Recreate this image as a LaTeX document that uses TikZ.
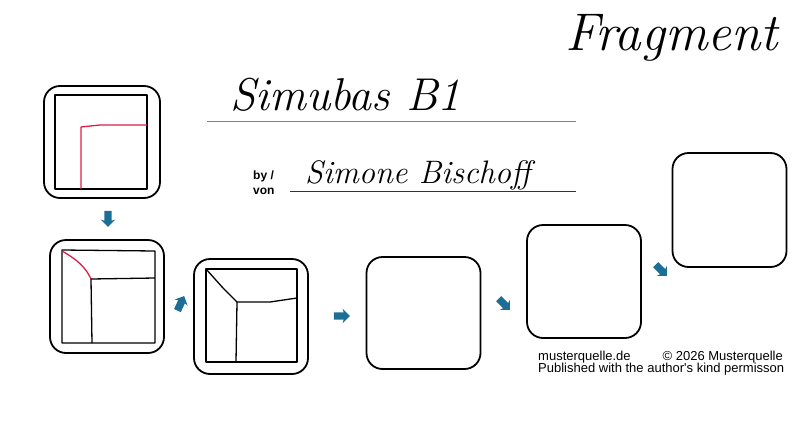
\documentclass[tikz,border=0pt]{standalone}
\usepackage{fontspec}
\newfontfamily\footfont{Liberation Sans}
\usetikzlibrary{shapes.arrows}
\definecolor{arrowblue}{RGB}{28,110,150}
\definecolor{sketchred}{RGB}{220,30,70}
\tikzset{
  frame/.style={draw, line width=1.8pt, rounded corners=16pt, minimum width=114pt, minimum height=113pt, inner sep=0pt},
  blockarrow/.style={single arrow, fill=arrowblue, minimum height=16pt, inner sep=3.5pt, single arrow head extend=3.5pt, single arrow head indent=1pt},
  sketch/.style={line width=1.3pt, line join=round},
  hand/.style={inner sep=0pt, font=\itshape},
  foot/.style={inner sep=0pt, font=\footfont\fontsize{13}{15}\selectfont},
}
\begin{document}
\begin{tikzpicture}[x=1pt,y=-1pt]
\useasboundingbox (0,0) rectangle (800,426);

\node[frame, minimum width=116pt, minimum height=112pt] (f1) at (102,142) {};
\node[frame] (f2) at (107,296.5) {};
\node[frame, minimum height=115pt] (f3) at (251,316.5) {};
\node[frame, minimum height=112pt] (f4) at (423.5,313) {};
\node[frame] (f5) at (584,281.5) {};
\node[frame, minimum height=114pt] (f6) at (729.5,210) {};

% sketches
\draw[sketch] (55,95) -- (147,95) -- (147,189) -- (55,189) -- cycle;
\draw[sketch, sketchred] (81,189) -- (81,127) -- (100,125) -- (147,125);

\draw[sketch] (62,250) -- (155,251) -- (155,343) -- (62,343) -- cycle;
\draw[sketch, sketchred] (62,251) .. controls (78,260) and (86,268) .. (91,279);
\draw[sketch] (91,279) -- (155,278);
\draw[sketch] (91,279) -- (92,343);

\draw[sketch] (206,269) -- (297,269) -- (297,362) -- (206,362) -- cycle;
\draw[sketch] (206,269) -- (223,288) -- (237,302) -- (270,302) -- (297,298);
\draw[sketch] (237,302) -- (236,362);

\node[blockarrow, rotate=-90] (a1) at (108,217) {};
\node[blockarrow, rotate=65] (a2) at (180,305) {};
\node[blockarrow] (a3) at (340,316) {};
\node[blockarrow, rotate=-45] (a4) at (503,303) {};
\node[blockarrow, rotate=-45] (a5) at (660,269) {};

% titles
\node[hand, anchor=base east, font=\fontsize{53}{56}\selectfont\itshape] (frag) at (778,50) {Fragment};
\node[hand, anchor=base west, font=\fontsize{46}{50}\selectfont\itshape] (title) at (230,110) {Simubas B1};
\draw[gray, line width=1pt] (207,121) -- (576,121);
\node[inner sep=0pt, anchor=base west, font=\footfont\bfseries\fontsize{12}{14}\selectfont] (by) at (253,179) {by /};
\node[inner sep=0pt, anchor=base west, font=\footfont\bfseries\fontsize{12}{14}\selectfont] (von) at (253,194) {von};
\node[hand, anchor=base west, font=\fontsize{32.5}{35}\selectfont\itshape] (author) at (305,183) {Simone Bischoff};
\draw[black!80, line width=1pt] (290,191) -- (576,191);

% footer
\node[foot, anchor=base west] (site) at (538,360) {musterquelle.de};
\node[foot, anchor=base east] (copy) at (783,360) {© 2026 Musterquelle};
\node[foot, anchor=base west] (perm) at (538,372) {Published with the author's kind permisson};
\end{tikzpicture}
\end{document}
